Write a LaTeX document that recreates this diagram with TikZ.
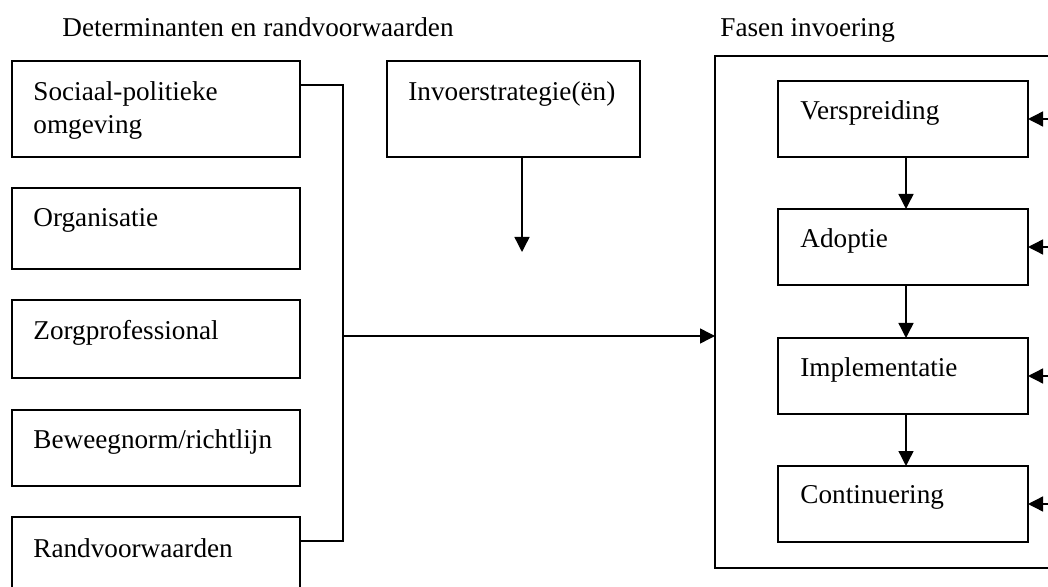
\documentclass[tikz,border=0pt]{standalone}
\usepackage{fontspec}
\setmainfont{Liberation Serif}
\usetikzlibrary{arrows.meta}

\begin{document}
\begin{tikzpicture}[
  x=0.5pt, y=-0.5pt,
  >={Triangle[length=7.5pt,width=7.5pt]},
  every node/.style={font=\fontsize{13.6}{16.5}\selectfont},
  box/.style={rectangle, draw=black, line width=0.7pt, anchor=north west, inner sep=0pt, outer sep=0pt},
  detbox/.style={box, minimum width=144pt},
  fasebox/.style={box, minimum width=125pt, minimum height=38pt},
  boxtxt/.style={anchor=north west, inner sep=0pt, align=left},
  conn/.style={line width=0.7pt}
]
\useasboundingbox (0,0) rectangle (1048,587);
\clip (0,0) rectangle (1048,587);

% titels
\node[anchor=base west, inner sep=0pt] (dettitel) at (62,37) {Determinanten en randvoorwaarden};
\node[anchor=base west, inner sep=0pt] (fasetitel) at (720,37) {Fasen invoering};

% determinanten
\node[detbox, minimum height=48pt] (soc) at (12,61) {};
\node[detbox, minimum height=40.5pt] (org) at (12,188) {};
\node[detbox, minimum height=39pt] (zorg) at (12,300) {};
\node[detbox, minimum height=38pt] (norm) at (12,410) {};
\node[detbox, minimum height=45pt] (rand) at (12,517) {};

\node[boxtxt] (soctxt) at ([shift={(10.5pt,-10pt)}]soc.north west) {Sociaal-politieke\\omgeving};
\node[boxtxt] (orgtxt) at ([shift={(10.5pt,-10pt)}]org.north west) {Organisatie};
\node[boxtxt] (zorgtxt) at ([shift={(10.5pt,-10pt)}]zorg.north west) {Zorgprofessional};
\node[boxtxt] (normtxt) at ([shift={(10.5pt,-9.5pt)}]norm.north west) {Beweegnorm/richtlijn};
\node[boxtxt] (randtxt) at ([shift={(10.5pt,-10.5pt)}]rand.north west) {Randvoorwaarden};

% invoerstrategie
\node[box, minimum width=126.5pt, minimum height=48pt] (inv) at (387,61) {};
\node[boxtxt] (invtxt) at ([shift={(10.5pt,-10pt)}]inv.north west) {Invoerstrategie(ën)};

% fasen
\node[box, minimum width=177.5pt, minimum height=256pt] (fasen) at (715,56) {};
\node[fasebox] (versp) at (778,81) {};
\node[fasebox] (adop) at (778,209) {};
\node[fasebox] (impl) at (778,338) {};
\node[fasebox] (cont) at (778,466) {};

\node[boxtxt] (versptxt) at ([shift={(11pt,-9.5pt)}]versp.north west) {Verspreiding};
\node[boxtxt] (adoptxt) at ([shift={(11pt,-9.5pt)}]adop.north west) {Adoptie};
\node[boxtxt] (impltxt) at ([shift={(11pt,-9.5pt)}]impl.north west) {Implementatie};
\node[boxtxt] (conttxt) at ([shift={(11pt,-9.5pt)}]cont.north west) {Continuering};

% verbindingen
\coordinate (knik) at (343,336);
\coordinate (invpijl) at (522,252);
\draw[conn] ([yshift=-12pt]soc.north east) -| (knik) |- ([yshift=-12pt]rand.north east);
\draw[conn,->] (knik) -- (knik -| fasen.west);
\draw[conn,->] (invpijl |- inv.south) -- (invpijl);

\foreach \a/\b in {versp/adop, adop/impl, impl/cont}
  \draw[conn,->] ([xshift=1.5pt]\a.south) -- ([xshift=1.5pt]\b.north);
\foreach \f in {versp, adop, impl, cont}
  \draw[conn,->] (\f.east -| fasen.east) -- (\f.east);

\end{tikzpicture}
\end{document}
